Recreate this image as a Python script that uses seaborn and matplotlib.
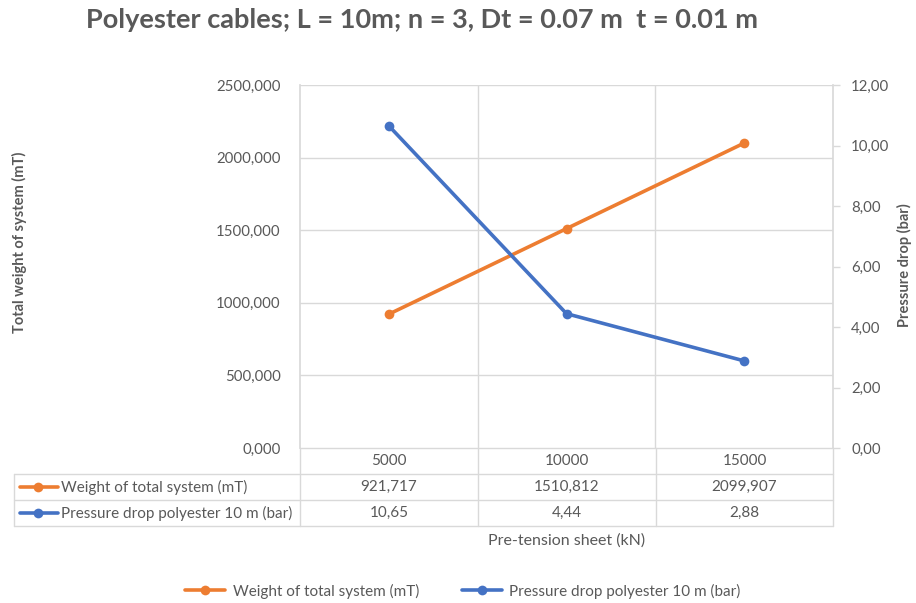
import matplotlib
matplotlib.use("Agg")
import matplotlib.pyplot as plt
import matplotlib.ticker as mticker
from matplotlib.lines import Line2D
import seaborn as sns
import pandas as pd

categories = ["5000", "10000", "15000"]
weight_total = [921.717, 1510.812, 2099.907]
pressure_drop = [10.65, 4.44, 2.88]
weight_labels = ["921,717", "1510,812", "2099,907"]
pressure_labels = ["10,65", "4,44", "2,88"]
series_names = ["Weight of total system (mT)", "Pressure drop polyester 10 m (bar)"]

ORANGE = "#ED7D31"
BLUE = "#4472C4"
GRID = "#D9D9D9"
TXT = "#595959"

sns.set_theme(style="white")
plt.rcParams["font.family"] = ["Lato", "DejaVu Sans"]

df = pd.DataFrame({"sheet": categories, "weight": weight_total, "pressure": pressure_drop})

fig = plt.figure(figsize=(9.16, 6.03), dpi=100)
L, R, B, T = 300 / 916, 833 / 916, 1 - 448 / 603, 1 - 85 / 603
ax = fig.add_axes([L, B, R - L, T - B])
ax2 = ax.twinx()

sns.lineplot(data=df, x="sheet", y="weight", ax=ax, color=ORANGE, lw=2.6,
             marker="o", markersize=7, markeredgewidth=0, sort=False, zorder=3)
sns.lineplot(data=df, x="sheet", y="pressure", ax=ax2, color=BLUE, lw=2.6,
             marker="o", markersize=7, markeredgewidth=0, sort=False, zorder=3)

ax.set_xlim(-0.5, 2.5)
ax.set_ylim(0, 2500)
ax2.set_ylim(0, 12)
ax.set_yticks(range(0, 2501, 500))
ax2.set_yticks(range(0, 13, 2))
ax.yaxis.set_major_formatter(mticker.FuncFormatter(lambda v, p: f"{v:.3f}".replace(".", ",")))
ax2.yaxis.set_major_formatter(mticker.FuncFormatter(lambda v, p: f"{v:.2f}".replace(".", ",")))

# grid: horizontal at left ticks, vertical at category boundaries
for yv in range(500, 2501, 500):
    ax.axhline(yv, color=GRID, lw=1, zorder=0)
for xv in (0.5, 1.5):
    ax.axvline(xv, color=GRID, lw=1, zorder=0)

for a in (ax, ax2):
    for s in a.spines.values():
        s.set_visible(False)
    a.set_xlabel("")
    a.set_ylabel("")
ax.set_xticks([])
ax.spines["left"].set_visible(True)
ax.spines["left"].set_color(GRID)
ax2.spines["right"].set_visible(True)
ax2.spines["right"].set_color(GRID)

ax.tick_params(axis="y", length=0, pad=14, labelsize=10.8, labelcolor=TXT)
ax2.tick_params(axis="y", length=5, width=1, color=GRID, pad=8, labelsize=10.8, labelcolor=TXT)

# axis titles
fig.text(19 / 916, 1 - 242 / 603, "Total weight of system (mT)", rotation=90,
         ha="center", va="center", fontsize=10.5, fontweight="bold", color=TXT)
fig.text(904 / 916, 1 - 265 / 603, "Pressure drop (bar)", rotation=90,
         ha="center", va="center", fontsize=10.5, fontweight="bold", color=TXT)

# data table below the plot area
def fy(py):
    return 1 - py / 603

def fx(px):
    return px / 916

tbl = dict(color=GRID, lw=1, transform=fig.transFigure)
col_x = [300, 478, 656, 833]
fig.add_artist(Line2D([fx(300), fx(833)], [fy(448), fy(448)], **tbl))
for py in (474, 500, 526):
    fig.add_artist(Line2D([fx(14), fx(833)], [fy(py), fy(py)], **tbl))
for px in col_x:
    fig.add_artist(Line2D([fx(px), fx(px)], [fy(448), fy(526)], **tbl))
fig.add_artist(Line2D([fx(14), fx(14)], [fy(474), fy(526)], **tbl))

centers = [(col_x[i] + col_x[i + 1]) / 2 for i in range(3)]
for cx, lab in zip(centers, categories):
    fig.text(fx(cx), fy(461), lab, ha="center", va="center", fontsize=11, color=TXT)
rows = [(487, ORANGE, series_names[0], weight_labels),
        (513, BLUE, series_names[1], pressure_labels)]
for py, col, name, labs in rows:
    fig.add_artist(Line2D([fx(20), fx(58)], [fy(py), fy(py)], color=col, lw=2.6,
                          transform=fig.transFigure))
    fig.add_artist(Line2D([fx(38)], [fy(py)], color=col, marker="o", markersize=7,
                          markeredgewidth=0, transform=fig.transFigure))
    fig.text(fx(61), fy(py), name, ha="left", va="center", fontsize=11, color=TXT)
    for cx, lab in zip(centers, labs):
        fig.text(fx(cx), fy(py), lab, ha="center", va="center", fontsize=11, color=TXT)

fig.text(fx(567), fy(541), "Pre-tension sheet (kN)", ha="center", va="center",
         fontsize=11.5, color=TXT)

fig.suptitle("Polyester cables; L = 10m; n = 3, Dt = 0.07 m  t = 0.01 m",
             x=fx(422), y=fy(20), ha="center", va="center",
             fontsize=19.5, fontweight="bold", color=TXT)

handles = [Line2D([], [], color=ORANGE, lw=2.6, marker="o", markersize=7, markeredgewidth=0),
           Line2D([], [], color=BLUE, lw=2.6, marker="o", markersize=7, markeredgewidth=0)]
fig.legend(handles, series_names, loc="center", bbox_to_anchor=(fx(463), fy(591)),
           ncol=2, frameon=False, fontsize=11, labelcolor=TXT,
           handlelength=2.6, columnspacing=2.8, handletextpad=0.5)

fig.savefig("out.png", dpi=100)
